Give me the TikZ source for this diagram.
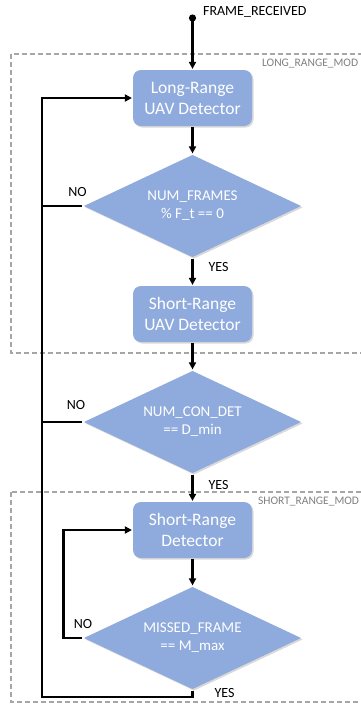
\documentclass[tikz,border=0pt]{standalone}
\usepackage{fontspec}
\setmainfont{Carlito}
\usetikzlibrary{shapes.geometric,arrows.meta,shadows}
\definecolor{boxblue}{HTML}{8FAADC}
\definecolor{framegray}{HTML}{A6A6A6}
\definecolor{modegray}{HTML}{7F7F7F}

\begin{document}
\begin{tikzpicture}[x=1pt,y=-1pt,->,>={Triangle[length=7pt,width=7pt]},line width=2.2pt,node distance=108pt,
    box node/.style={rounded corners=8pt,fill=boxblue,text=white,align=center,minimum width=119pt,minimum height=56pt,inner sep=0pt,
        font=\fontsize{17.5}{21}\selectfont,drop shadow={shadow xshift=1.5pt,shadow yshift=-1.5pt,opacity=0.3,fill=gray}},
    test node/.style={diamond,aspect=2.14,fill=boxblue,text=white,align=center,minimum width=218pt,minimum height=103pt,inner sep=0pt,
        font=\fontsize{15}{18}\selectfont,drop shadow={shadow xshift=1.5pt,shadow yshift=-1.5pt,opacity=0.3,fill=gray}},
    mode frame/.style={-,draw=framegray,line width=1.5pt,dash pattern=on 5pt off 3pt},
    mode label/.style={text=modegray,inner sep=0pt,anchor=west,font=\fontsize{11.5}{13}\selectfont},
    lbl/.style={inner sep=0pt,font=\fontsize{14}{16}\selectfont}]
    \useasboundingbox (0,0) rectangle (361,705);

    % mode frames
    \draw[mode frame] (11,54) rectangle (372,353);
    \draw[mode frame] (11,492) rectangle (372,702);
    \node[mode label] (lrmode) at (261,64) {LONG\_RANGE\_MOD};
    \node[mode label] (srmode) at (257,502) {SHORT\_RANGE\_MOD};

    % flow nodes
    \node[box node] (lr) at (192.5,98) {Long-Range\\UAV Detector};
    \node[test node] (nf) [below of = lr] {NUM\_FRAMES\\\% F\_t == 0};
    \node[box node] (sr) [below of = nf] {Short-Range\\UAV Detector};
    \node[test node] (cd) [below of = sr] {NUM\_CON\_DET\\== D\_min};
    \node[box node] (sd) [below of = cd] {Short-Range\\Detector};
    \node[test node] (mf) [below of = sd] {MISSED\_FRAME\\== M\_max};

    \coordinate (start) at (192.5,14.5);
    \coordinate (loopb) at (42,697);
    \node[lbl,anchor=west] (startlbl) at (202,12) {FRAME\_RECEIVED};

    % arrows
    \draw[{Circle[length=7pt]}->] (start) -- (lr);
    \draw (lr) -- (nf);
    \draw (nf) -- (sr);
    \draw (sr) -- (cd);
    \draw (cd) -- (sd);
    \draw (sd) -- (mf);
    \draw (mf.west) -- ++(-19,0) |- (sd.west);
    \draw (mf.south) |- (loopb) |- (lr.west);
    \draw[-] (nf.west) -- (nf.west -| loopb);
    \draw[-] (cd.west) -- (cd.west -| loopb);

    % labels
    \node[lbl] (yesnf) at (218.5,267) {YES};
    \node[lbl] (yescd) at (218.5,485) {YES};
    \node[lbl] (yesmf) at (224.5,693) {YES};
    \node[lbl] (nonf) at (77.5,192) {NO};
    \node[lbl] (nocd) at (76,405) {NO};
    \node[lbl] (nomf) at (83,624) {NO};
\end{tikzpicture}
\end{document}
